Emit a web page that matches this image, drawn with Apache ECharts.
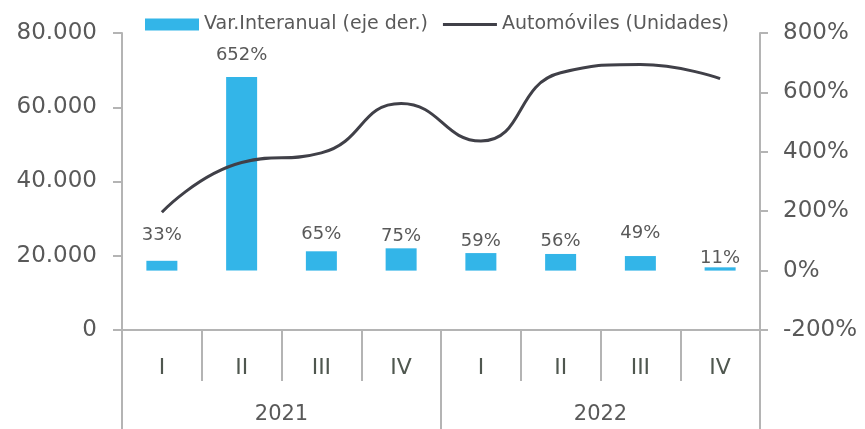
<!DOCTYPE html>
<html>
<head>
<meta charset="utf-8">
<script src="https://cdn.jsdelivr.net/npm/echarts@6/dist/echarts.min.js"></script>
<style>
  html, body { margin: 0; padding: 0; background: #fff; }
  #chart { width: 865px; height: 429px; }
</style>
</head>
<body>
<div id="chart"></div>
<script>
  // datos
  const quarters = ['I', 'II', 'III', 'IV', 'I', 'II', 'III', 'IV'];
  const years = ['2021', '2022'];
  const varInteranual = [33, 652, 65, 75, 59, 56, 49, 11];
  const automoviles = [31700, 45100, 47700, 61000, 50900, 69300, 71500, 67700];

  const textColor = '#595959';
  const axisColor = '#b4b4b4';
  const font = 'DejaVu Sans';

  // separacion de cada etiqueta sobre su barra
  const labelDist = [16, 13, 8, 3, 3, 4, 14, 0];

  const chart = echarts.init(document.getElementById('chart'));

  const option = {
    animation: false,
    textStyle: { fontFamily: font },
    legend: {
      left: 140,
      top: 10,
      itemWidth: 54,
      itemHeight: 12,
      itemGap: 15,
      textStyle: { color: textColor, fontSize: 19, fontFamily: font },
      data: [
        { name: 'Var.Interanual (eje der.)', icon: 'rect' },
        // solo la linea, sin el circulo
        { name: 'Automóviles (Unidades)', icon: 'path://M0,0H54V3H0Z' }
      ]
    },
    grid: {
      left: 122,
      right: 105,
      top: 33,
      bottom: 99
    },
    xAxis: [
      {
        type: 'category',
        position: 'bottom',
        data: quarters,
        axisLine: { show: true, onZero: false, lineStyle: { color: axisColor, width: 2 } },
        axisTick: {
          show: true,
          interval: 0,
          length: 51,
          lineStyle: { color: axisColor, width: 2 }
        },
        axisLabel: {
          interval: 0,
          margin: 27,
          color: '#4f574f',
          fontSize: 22,
          fontFamily: font
        }
      },
      {
        type: 'category',
        position: 'bottom',
        data: years,
        axisLine: { show: false, onZero: false },
        axisTick: {
          show: true,
          interval: 0,
          length: 99,
          lineStyle: { color: axisColor, width: 2 }
        },
        axisLabel: {
          interval: 0,
          margin: 74,
          color: textColor,
          fontSize: 21,
          fontFamily: font
        }
      }
    ],
    yAxis: [
      {
        type: 'value',
        position: 'left',
        min: 0,
        max: 80000,
        interval: 20000,
        splitLine: { show: false },
        axisLine: { show: true, lineStyle: { color: axisColor, width: 2 } },
        axisTick: { show: true, length: 9, lineStyle: { color: axisColor, width: 2 } },
        axisLabel: {
          margin: 25,
          color: textColor,
          fontSize: 23,
          fontFamily: font,
          formatter: (v) => v === 0 ? '0' : (v / 1000).toFixed(0) + '.000'
        }
      },
      {
        type: 'value',
        position: 'right',
        min: -200,
        max: 800,
        interval: 200,
        splitLine: { show: false },
        axisLine: { show: true, lineStyle: { color: axisColor, width: 2 } },
        axisTick: { show: true, length: 8, lineStyle: { color: axisColor, width: 2 } },
        axisLabel: {
          margin: 23,
          color: textColor,
          fontSize: 23,
          fontFamily: font,
          formatter: '{value}%'
        }
      }
    ],
    series: [
      {
        name: 'Var.Interanual (eje der.)',
        type: 'bar',
        xAxisIndex: 0,
        yAxisIndex: 1,
        barWidth: 31,
        itemStyle: { color: '#33b5e8' },
        label: {
          show: true,
          position: 'top',
          color: textColor,
          fontSize: 18,
          fontFamily: font,
          formatter: '{c}%'
        },
        data: varInteranual.map((v, i) => ({ value: v, label: { distance: labelDist[i] } }))
      },
      {
        name: 'Automóviles (Unidades)',
        type: 'line',
        xAxisIndex: 0,
        yAxisIndex: 0,
        smooth: 0.5,
        symbol: 'none',
        lineStyle: { color: '#404048', width: 3 },
        itemStyle: { color: '#404048' },
        data: automoviles,
        z: 3
      }
    ]
  };

  chart.setOption(option);
</script>
</body>
</html>
